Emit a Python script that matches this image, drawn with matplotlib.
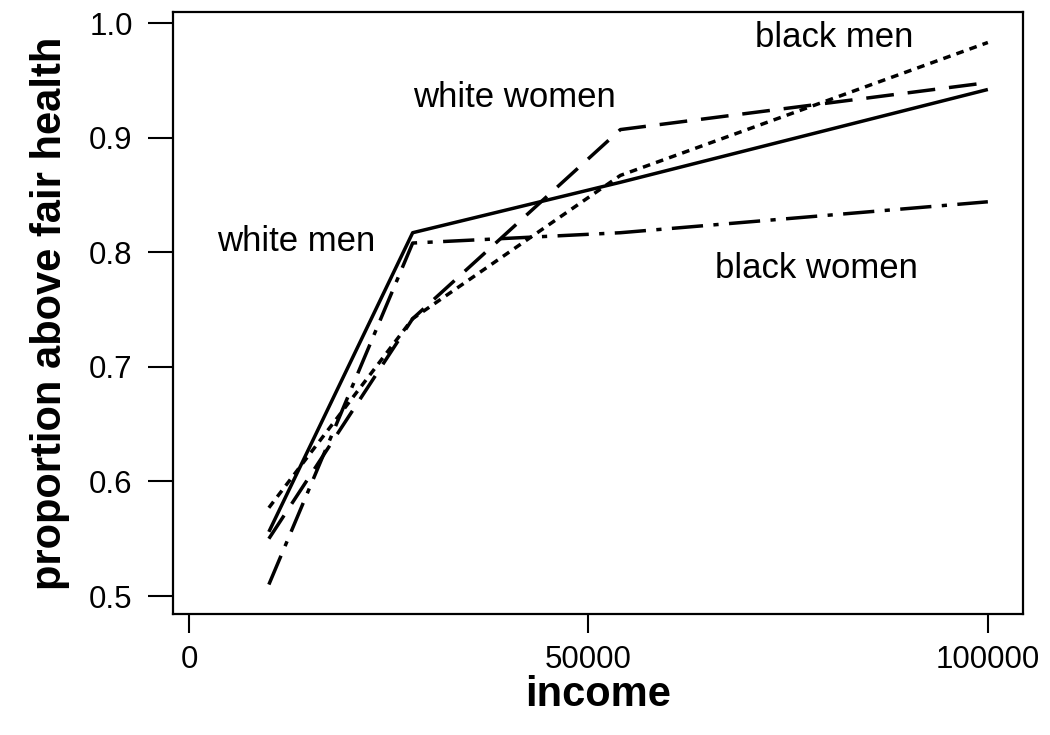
import matplotlib
matplotlib.use("Agg")
import matplotlib.pyplot as plt

income = [10000, 28000, 54000, 100000]
white_men = [0.556, 0.817, 0.861, 0.942]
white_women = [0.550, 0.742, 0.907, 0.948]
black_men = [0.577, 0.742, 0.867, 0.983]
black_women = [0.510, 0.808, 0.817, 0.844]

labels = ["white men", "white women", "black men", "black women"]
label_pos = [(13400, 0.809), (40800, 0.935), (80800, 0.987), (78500, 0.786)]

xticks = [0, 50000, 100000]
yticks = [0.5, 0.6, 0.7, 0.8, 0.9, 1.0]

plt.rcParams['font.family'] = ['Liberation Sans', 'DejaVu Sans']

fig = plt.figure(figsize=(10.5, 7.35), dpi=100)
ax = fig.add_axes([173/1050, (735-614)/735, (1023-173)/1050, (614-12)/735])

lw = 2.5
ax.plot(income, white_men, color='black', lw=lw, linestyle='-', solid_capstyle='butt')
ax.plot(income, white_women, color='black', lw=lw, linestyle=(0, (8, 4)), dash_capstyle='butt')
ax.plot(income, black_men, color='black', lw=lw, linestyle=(0, (2.2, 1.8)), dash_capstyle='butt')
ax.plot(income, black_women, color='black', lw=lw, linestyle=(0, (9, 3, 1.5, 3)), dash_capstyle='butt')

for t, (x, y) in zip(labels, label_pos):
    ax.text(x, y, t, fontsize=25, ha='center', va='center')

ax.set_xlim(-2000, 104400)
ax.set_ylim(0.4843, 1.0096)
ax.set_xticks(xticks)
ax.set_xticklabels([str(v) for v in xticks])
ax.set_yticks(yticks)
ax.set_yticklabels([f"{v:.1f}" for v in yticks])
ax.tick_params(axis='x', length=14, width=1.5, labelsize=22.5, pad=8)
ax.tick_params(axis='y', length=18, width=1.5, labelsize=22.5, pad=11)
for s in ax.spines.values():
    s.set_linewidth(1.6)

ax.set_xlabel("income", fontsize=30, fontweight='bold', labelpad=0)
ax.set_ylabel("proportion above fair health", fontsize=30, fontweight='bold', labelpad=14)

fig.savefig("out.png", dpi=100)
